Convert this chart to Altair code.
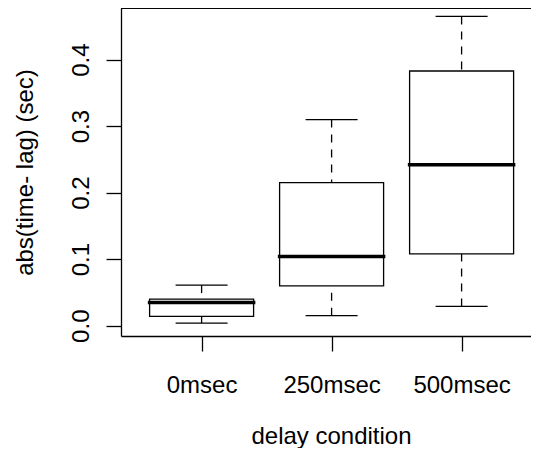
import json
import altair as alt
import pandas as pd

# values
categories = ["0msec", "250msec", "500msec"]
whisker_low = [0.004, 0.015, 0.029]
q1 = [0.014, 0.060, 0.108]
median = [0.035, 0.104, 0.242]
q3 = [0.040, 0.215, 0.383]
whisker_high = [0.061, 0.310, 0.465]
y_ticks = [0.0, 0.1, 0.2, 0.3, 0.4]

df = pd.DataFrame({
    "pos": list(range(1, len(categories) + 1)),
    "cat": categories,
    "wlo": whisker_low,
    "q1": q1,
    "med": median,
    "q3": q3,
    "whi": whisker_high,
})

W, H = 410, 328
FONT = "Liberation Sans"
LW = 1.3

xs = alt.Scale(domain=[0.38, 0.38 + W / 130.0], nice=False, zero=False)
ys = alt.Scale(domain=[-0.0155, 0.4777], nice=False, zero=False)

base = alt.Chart(df).transform_calculate(
    box_l="datum.pos - 0.4",
    box_r="datum.pos + 0.4",
    cap_l="datum.pos - 0.2",
    cap_r="datum.pos + 0.2",
)

label_expr = json.dumps(categories) + "[datum.value - 1]"

x_axis = alt.Axis(
    values=[1, 2, 3], labelExpr=label_expr, grid=False,
    tickSize=15, tickColor="black", tickWidth=LW,
    domain=True, domainColor="black", domainWidth=LW,
    labelFont=FONT, labelFontSize=24, labelColor="black",
    labelBaseline="alphabetic", labelAlign="center", labelAngle=0,
    labelPadding=41, labelFlush=False, labelOverlap=False,
    title="delay condition", titleFont=FONT, titleFontSize=24,
    titleFontWeight="normal", titleColor="black",
    titleBaseline="alphabetic", titleAlign="center", titleX=210, titleY=107,
)
y_axis = alt.Axis(
    values=y_ticks, format=".1f", grid=False,
    tickSize=15, tickColor="black", tickWidth=LW,
    domain=True, domainColor="black", domainWidth=LW,
    labelFont=FONT, labelFontSize=24, labelColor="black",
    labelAngle=270, labelAlign="center", labelBaseline="alphabetic",
    labelPadding=18, labelOverlap=False, labelFlush=False,
    title="abs(time- lag) (sec)", titleFont=FONT, titleFontSize=24,
    titleFontWeight="normal", titleColor="black", titleAngle=270,
    titleBaseline="alphabetic", titleAlign="center", titleX=-89, titleY=164,
)


def X(field):
    return alt.X(field, type="quantitative", scale=xs, axis=x_axis)


def Y(field):
    return alt.Y(field, type="quantitative", scale=ys, axis=y_axis)


box = base.mark_rect(fill="white", stroke="black", strokeWidth=LW).encode(
    x=X("box_l"), x2="box_r:Q", y=Y("q1"), y2="q3:Q",
)
med_line = base.mark_rule(color="black", strokeWidth=3.5, strokeCap="square").encode(
    x=X("box_l"), x2="box_r:Q", y=Y("med"),
)
upper = base.mark_rule(color="black", strokeWidth=LW, strokeDash=[8, 7]).encode(
    x=X("pos"), y=Y("whi"), y2="q3:Q",
)
lower = base.mark_rule(color="black", strokeWidth=LW, strokeDash=[8, 7]).encode(
    x=X("pos"), y=Y("wlo"), y2="q1:Q",
)
cap_hi = base.mark_rule(color="black", strokeWidth=LW).encode(
    x=X("cap_l"), x2="cap_r:Q", y=Y("whi"),
)
cap_lo = base.mark_rule(color="black", strokeWidth=LW).encode(
    x=X("cap_l"), x2="cap_r:Q", y=Y("wlo"),
)
top_frame = alt.Chart(df).mark_rule(color="black", strokeWidth=LW).encode(
    x=alt.value(0), x2=alt.value(W), y=alt.value(0),
)

chart = alt.layer(upper, lower, cap_hi, cap_lo, box, med_line, top_frame).properties(
    width=W, height=H,
    padding={"left": 113, "top": 0, "right": 0, "bottom": 112},
    autosize=alt.AutoSizeParams(type="none"),
).configure_view(strokeWidth=0)

chart.save("out.html", embed_options={"renderer": "svg", "actions": False})
